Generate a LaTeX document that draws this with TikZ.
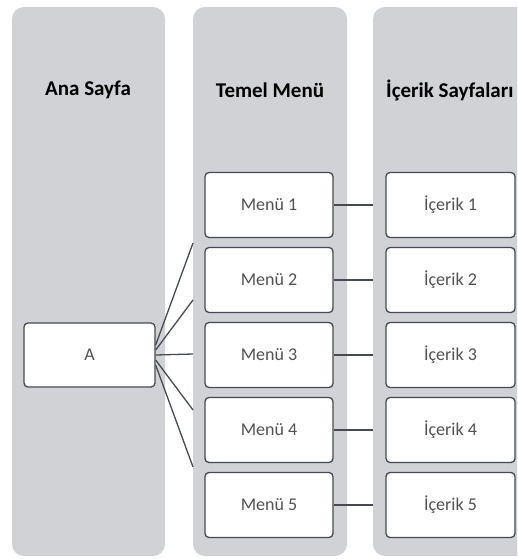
\documentclass[tikz,border=0pt]{standalone}
\usepackage{fontspec}
\setmainfont{Carlito}
\usetikzlibrary{positioning,calc}
\definecolor{colgray}{RGB}{209,210,214}
\definecolor{boxline}{RGB}{70,74,80}
\definecolor{linkgray}{RGB}{70,74,82}
\tikzset{
  column/.style = {fill=colgray, rounded corners=12pt, minimum height=549pt, inner sep=0pt},
  head/.style = {font=\fontsize{21}{24}\selectfont\bfseries, text=black},
  pagebox/.style = {draw=boxline, fill=white, line width=1.3pt, rounded corners=4pt, minimum width=128pt, minimum height=65pt, inner sep=0pt, font=\fontsize{18}{21}\selectfont, text=black!68},
  link/.style = {draw=linkgray, line width=1.3pt}
}

\begin{document}
\begin{tikzpicture}[x=1pt, y=-1pt]
    \clip (0,0) rectangle (517,559);
    \fill[white] (0,0) rectangle (517,559);

    % columns
    \node[column, minimum width=153pt] (col1) at (88.5,281.5) {};
    \node[column, minimum width=154pt] (col2) at (270,281.5) {};
    \node[column, minimum width=157pt] (col3) at (451.5,281.5) {};

    \node[head] (h1) at (88,90) {Ana Sayfa};
    \node[head] (h2) at (270,90) {Temel Menü};
    \node[head, anchor=west, inner sep=0pt] (h3) at (386,90) {İçerik Sayfaları};

    % home page
    \node[pagebox, minimum width=131pt, minimum height=64pt] (A) at (89.5,355) {A};

    % menu and content pages
    \foreach \i in {1,...,5} {
        \node[pagebox] (m\i) at (269,130+75*\i) {Menü \i};
        \node[pagebox, minimum width=129pt] (c\i) at (450.5,130+75*\i) {İçerik \i};
        \draw[link] (m\i.east) -- (m\i.east -| col3.west);
    }

    % fan from A
    \coordinate (f1) at (193,243);
    \coordinate (f2) at (193,300);
    \coordinate (f3) at (193,354);
    \coordinate (f4) at (193,410);
    \coordinate (f5) at (193,467);
    \draw[link] ($(A.east)+(0,-10)$) -- (f1);
    \draw[link] ($(A.east)+(0,-5)$) -- (f2);
    \draw[link] (A.east) -- (f3);
    \draw[link] ($(A.east)+(0,5)$) -- (f4);
    \draw[link] ($(A.east)+(0,10)$) -- (f5);
\end{tikzpicture}
\end{document}
